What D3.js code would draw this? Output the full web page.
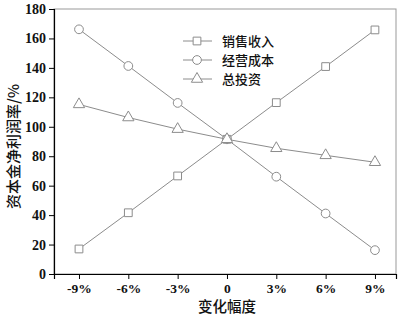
<!DOCTYPE html>
<html>
<head>
<meta charset="utf-8">
<script src="https://cdn.jsdelivr.net/npm/d3@7"></script>
<style>
  body { margin: 0; background: #fff; }
</style>
</head>
<body>
<div id="chart"></div>
<script>
// change rates (%) on x axis
const changes = [-9, -6, -3, 0, 3, 6, 9];
const xTickLabels = ["-9%", "-6%", "-3%", "0", "3%", "6%", "9%"];
const seriesNames = ["销售收入", "经营成本", "总投资"];
const salesValues = [17, 41.6, 66.6, 91.5, 116.4, 140.9, 165.8];
const costValues = [166.2, 141.3, 116.2, 91.5, 66.1, 41.1, 16.2];
const investValues = [115.2, 106.3, 98.4, 91.5, 85.4, 80.6, 75.9];
const yTicks = [0, 20, 40, 60, 80, 100, 120, 140, 160, 180];

const width = 401, height = 317;
const margin = { left: 54, right: 5, top: 9, bottom: 43 };

const svg = d3.select("#chart").append("svg")
  .attr("width", width)
  .attr("height", height);

const x = d3.scaleLinear().domain([-10.52, 10.28]).range([margin.left, width - margin.right]);
const y = d3.scaleLinear().domain([0, 180]).range([height - margin.bottom, margin.top]);

const tickFont = "'Liberation Serif', 'Times New Roman', serif";
const cjkFont = "'Noto Sans CJK SC', sans-serif";

// frame (top + right are gray)
svg.append("rect")
  .attr("x", x.range()[0]).attr("y", y.range()[1])
  .attr("width", x.range()[1] - x.range()[0])
  .attr("height", y.range()[0] - y.range()[1])
  .attr("fill", "none")
  .attr("stroke", "#999");

// y axis
const yAxis = svg.append("g").attr("transform", `translate(${margin.left},0)`);
yAxis.call(d3.axisLeft(y).tickValues(d3.range(10, 180, 20)).tickSize(3).tickFormat(""));
yAxis.call(d3.axisLeft(y).tickValues(yTicks).tickSize(5).tickPadding(3).tickFormat(d3.format("d")));
yAxis.selectAll("path.domain").attr("stroke", "#000").attr("stroke-width", 1.2);
yAxis.selectAll("text")
  .attr("font-family", tickFont).attr("font-weight", "bold")
  .attr("font-size", 14).attr("fill", "#111");

// x axis
const xAxis = svg.append("g").attr("transform", `translate(0,${height - margin.bottom})`);
xAxis.call(d3.axisBottom(x).tickValues([-10.5, -7.5, -4.5, -1.5, 1.5, 4.5, 7.5]).tickSize(3).tickFormat(""));
xAxis.call(d3.axisBottom(x).tickValues(changes).tickSize(5).tickPadding(4)
  .tickFormat((d, i) => xTickLabels[i]));
xAxis.selectAll("path.domain").attr("stroke", "#000").attr("stroke-width", 1.2);
xAxis.selectAll("text")
  .attr("font-family", tickFont).attr("font-weight", "bold")
  .attr("font-size", 13.5).attr("fill", "#111");

// axis titles
svg.append("text")
  .attr("transform", `translate(19,${(y.range()[0] + y.range()[1]) / 2 + 5}) rotate(-90)`)
  .attr("text-anchor", "middle")
  .attr("font-family", cjkFont).attr("font-weight", 500)
  .attr("font-size", 15).attr("fill", "#111")
  .text("资本金净利润率/%");

svg.append("text")
  .attr("x", x(0)).attr("y", 312)
  .attr("text-anchor", "middle")
  .attr("font-family", cjkFont).attr("font-weight", 500)
  .attr("font-size", 14.5).attr("fill", "#111")
  .text("变化幅度");

const lineColor = "#8c8c8c";
const series = [
  { name: seriesNames[0], values: salesValues, symbol: d3.symbolSquare, size: 60 },
  { name: seriesNames[1], values: costValues, symbol: d3.symbolCircle, size: 60 },
  { name: seriesNames[2], values: investValues, symbol: d3.symbolTriangle, size: 55 }
];

const line = d3.line().x((d, i) => x(changes[i])).y(d => y(d));

series.forEach(s => {
  svg.append("path")
    .attr("d", line(s.values))
    .attr("fill", "none")
    .attr("stroke", lineColor)
    .attr("stroke-width", 1);
  svg.append("g").selectAll("path")
    .data(s.values)
    .join("path")
    .attr("transform", (d, i) => `translate(${x(changes[i])},${y(d)})`)
    .attr("d", d3.symbol().type(s.symbol).size(s.size))
    .attr("fill", "#fff")
    .attr("stroke", lineColor)
    .attr("stroke-width", 1);
});

// legend
const legend = svg.append("g").attr("transform", "translate(183,41)");
series.forEach((s, i) => {
  const g = legend.append("g").attr("transform", `translate(0,${i * 19})`);
  g.append("line").attr("x1", 0).attr("x2", 29).attr("y1", 0).attr("y2", 0)
    .attr("stroke", lineColor);
  g.append("path")
    .attr("transform", "translate(14,0)")
    .attr("d", d3.symbol().type(s.symbol).size(s.size))
    .attr("fill", "#fff").attr("stroke", lineColor);
  g.append("text")
    .attr("x", 39).attr("y", 5)
    .attr("font-family", cjkFont).attr("font-weight", 500)
    .attr("font-size", 13).attr("fill", "#111")
    .text(s.name);
});
</script>
</body>
</html>
